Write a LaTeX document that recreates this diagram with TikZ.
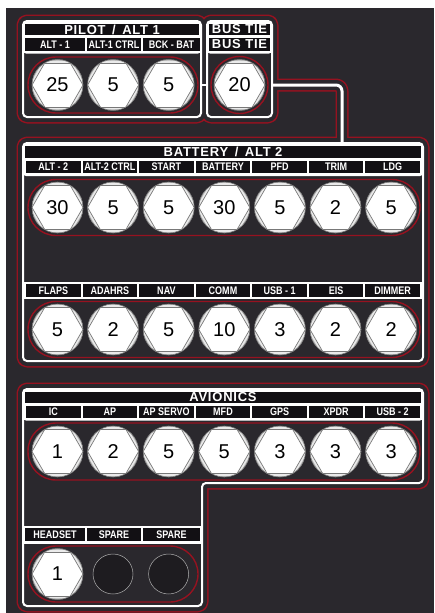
\documentclass[tikz,border=0pt]{standalone}
\usepackage{fontspec}
\setmainfont{Liberation Sans}
\newfontfamily\headfont[LetterSpace=6]{Liberation Sans}
\newfontfamily\cellfont[FakeStretch=0.82]{Liberation Sans}
\usepackage{xcolor}
\definecolor{pnlbg}{RGB}{42,40,45}
\definecolor{pnlbar}{RGB}{18,16,20}
\definecolor{pnlred}{RGB}{150,18,32}
\definecolor{pnlgray}{RGB}{120,120,120}
\definecolor{pnlgraylt}{RGB}{195,195,195}
\definecolor{pnlspare}{RGB}{30,28,32}
\usetikzlibrary{calc}

\tikzset{
  headbar/.style={fill=pnlbar, text=white, inner sep=0pt, minimum height=11.5pt,
    font=\headfont\bfseries\fontsize{13}{13}\selectfont},
  cellbar/.style={fill=pnlbar, text=white, inner sep=0pt, minimum height=12.5pt,
    font=\cellfont\bfseries\fontsize{11}{11}\selectfont},
  breaker/.style={circle, inner sep=0pt, minimum size=51pt, fill=pnlgraylt!35,
    draw=pnlgray, line width=0.6pt, font=\fontsize{20}{20}\selectfont,
    path picture={
      \fill[white] (path picture bounding box.center) ++(0:25.5pt) -- ++(120:25.5pt)
        -- ++(180:25.5pt) -- ++(240:25.5pt) -- ++(300:25.5pt) -- ++(0:25.5pt) -- cycle;
      \foreach \a in {0,60,...,300}{
        \draw[pnlgraylt, line width=0.8pt] (path picture bounding box.center) ++(\a:28.5pt) -- ++(\a+120:28.5pt);
        \draw[pnlgray, line width=0.7pt] (path picture bounding box.center) ++(\a:25.5pt) -- ++(\a+120:25.5pt);
      }
    }},
  sparebrk/.style={circle, inner sep=0pt, minimum size=40pt, fill=pnlspare, draw=pnlgray!60, line width=0.5pt},
  ringline/.style={draw=pnlred, line width=1.4pt},
  redlayer/.style={draw=pnlred, fill=pnlred, line width=13pt, line join=round, rounded corners=4pt},
  darklayer/.style={draw=pnlbg, fill=pnlbg, line width=10pt, line join=round, rounded corners=4pt},
  borderline/.style={draw=white, line width=2pt, rounded corners=4pt},
}

\begin{document}
\begin{tikzpicture}[x=1pt, y=-1pt]
  \useasboundingbox (0,0) rectangle (434,613);
  \fill[white] (0,0) rectangle (434,613);
  \fill[pnlbg] (6,8) rectangle (434,613);

  % red outline, then dark panel face
  \foreach \lay in {redlayer,darklayer}{
    \path[\lay] (23,21) rectangle (201,117);
    \path[\lay] (207,21) rectangle (272,117);
    \path[\lay] (23,143) rectangle (423,361);
    \path[\lay] (23,389) -| (423,483) -| (202,606) -- (23,606) -- cycle;
    \path[\lay, fill=none, rounded corners=6pt] (272,85) -| (342,143);
  }

  % title bands
  \fill[white, rounded corners=3pt] (23,21) rectangle (201,53.5);
  \fill[white, rounded corners=3pt] (207,21) rectangle (272,53.5);
  \fill[white, rounded corners=3pt] (23,143) rectangle (423,176);
  \fill[white] (23,281.5) rectangle (423,299);
  \fill[white, rounded corners=3pt] (23,389) rectangle (423,420.5);
  \fill[white] (23,526) rectangle (202,543.5);

  % pilot / alt 1
  \node[headbar, minimum width=174pt] (pilothead) at (112,29.5) {PILOT\enspace/\enspace ALT 1};
  \foreach \x/\w/\lbl [count=\i] in {55/60/ALT - 1, 114/54/ALT-1 CTRL, 171.5/57/BCK - BAT}
    \node[cellbar, minimum width=\w pt] (pilotcell-\i) at (\x,44.5) {\lbl};
  \draw[ringline, rounded corners=28pt] (28,57) rectangle (198,113);
  \foreach \amp [count=\i from 0] in {25,5,5}
    \node[breaker] (pilotbrk-\i) at ({57.5+55.6*\i},85) {\amp};

  % bus tie
  \node[headbar, minimum width=61pt] (tiehead) at (239.5,29.5) {BUS TIE};
  \node[headbar, minimum width=61pt, minimum height=12.5pt] (tiecell) at (239.5,44.5) {BUS TIE};
  \node[breaker] (tiebrk) at (239.5,85) {20};
  \draw[ringline] (tiebrk.center) circle [radius=28.5pt];

  % battery / alt 2
  \node[headbar, minimum width=396pt] (bathead) at (223,152) {BATTERY\enspace/\enspace ALT 2};
  \foreach \lbl [count=\i from 0] in {ALT - 2, ALT-2 CTRL, START, BATTERY, PFD, TRIM, LDG}
    \node[cellbar, minimum width=54.6pt] (batcell-\i) at ({25+56.57*(\i+0.5)},167) {\lbl};
  \draw[ringline, rounded corners=28pt] (28,179.5) rectangle (420,235.5);
  \foreach \amp [count=\i from 0] in {30,5,5,30,5,2,5}
    \node[breaker] (batbrk-\i) at ({57.5+55.6*\i},207.5) {\amp};

  \foreach \lbl [count=\i from 0] in {FLAPS, ADAHRS, NAV, COMM, USB - 1, EIS, DIMMER}
    \node[cellbar, minimum width=54.6pt] (auxcell-\i) at ({25+56.57*(\i+0.5)},290.5) {\lbl};
  \draw[ringline, rounded corners=28pt] (28,301.5) rectangle (420,357.5);
  \foreach \amp [count=\i from 0] in {5,2,5,10,3,2,2}
    \node[breaker] (auxbrk-\i) at ({57.5+55.6*\i},329.5) {\amp};

  % avionics
  \node[headbar, minimum width=396pt] (avhead) at (223,397.5) {AVIONICS};
  \foreach \lbl [count=\i from 0] in {IC, AP, AP SERVO, MFD, GPS, XPDR, USB - 2}
    \node[cellbar, minimum width=54.6pt] (avcell-\i) at ({25+56.57*(\i+0.5)},412) {\lbl};
  \draw[ringline, rounded corners=28pt] (28,423) rectangle (420,480);
  \foreach \amp [count=\i from 0] in {1,2,5,5,3,3,3}
    \node[breaker] (avbrk-\i) at ({57.5+55.6*\i},451.5) {\amp};

  \foreach \x/\w/\lbl [count=\i] in {55/60/HEADSET, 114/54/SPARE, 171.5/57/SPARE}
    \node[cellbar, minimum width=\w pt] (hscell-\i) at (\x,534.5) {\lbl};
  \draw[ringline, rounded corners=28pt] (28,546) rectangle (198,602);
  \node[breaker] (hsbrk) at (57.5,574) {1};
  \node[sparebrk] (sparebrk-1) at (113,574) {};
  \node[sparebrk] (sparebrk-2) at (168.6,574) {};

  % white panel borders and bus links
  \draw[borderline] (23,21) rectangle (201,117);
  \draw[borderline] (207,21) rectangle (272,117);
  \draw[borderline] (23,143) rectangle (423,361);
  \draw[borderline] (23,389) -| (423,483) -| (202,606) -- (23,606) -- cycle;
  \draw[white, line width=2pt] (201,85) -- (207,85);
  \draw[white, line width=3pt, rounded corners=6pt] (272,85) -| (342,143);
\end{tikzpicture}
\end{document}
